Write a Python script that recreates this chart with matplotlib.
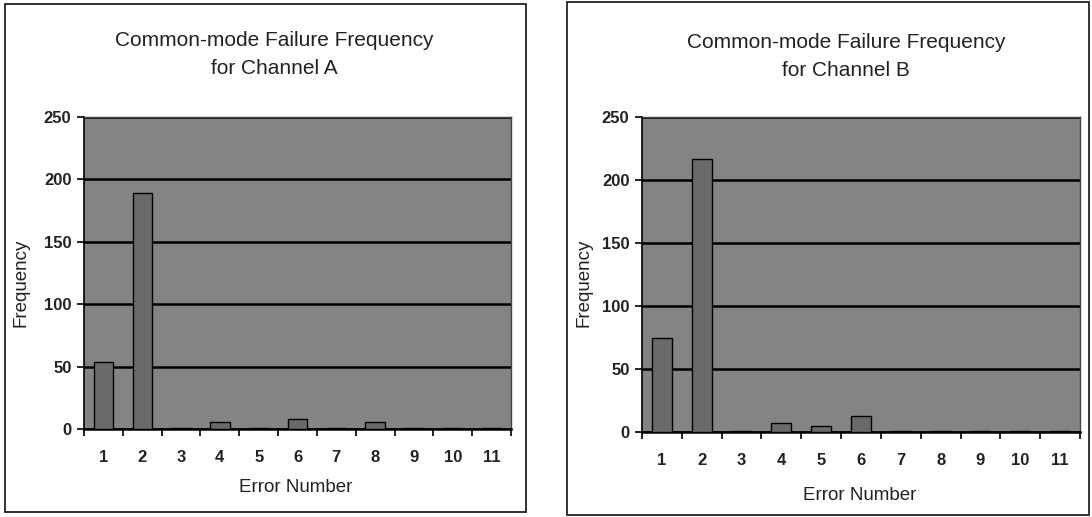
import numpy as np
import matplotlib.pyplot as plt
from matplotlib.patches import Rectangle

# Datos
errores = list(range(1, 12))
frec_a = [54, 189, 1, 6, 1, 8, 1, 6, 1, 1, 1]
frec_b = [75, 217, 1, 7, 5, 13, 1, 1, 1, 1, 1]
titulos = ['Common-mode Failure Frequency\nfor Channel A',
           'Common-mode Failure Frequency\nfor Channel B']

W, H = 1092, 517
FONDO = '#848484'
BARRA = '#6a6a6a'

plt.rcParams['font.family'] = ['Liberation Sans', 'DejaVu Sans']

fig = plt.figure(figsize=(W / 100, H / 100), dpi=100)
fig.patch.set_facecolor('white')


def px(x0, y0, x1, y1):
    """Convierte una caja en píxeles a coordenadas de figura"""
    return [x0 / W, 1 - y1 / H, (x1 - x0) / W, (y1 - y0) / H]


def panel(caja_ax, caja_borde, valores, titulo, pos_titulo, pos_ylabel, pos_xlabel):
    # Borde del panel
    b = px(*caja_borde)
    fig.patches.append(Rectangle((b[0], b[1]), b[2], b[3], transform=fig.transFigure,
                                 fill=False, edgecolor='#222222', linewidth=1.3))
    ax = fig.add_axes(px(*caja_ax))
    ax.set_facecolor(FONDO)
    x = np.arange(len(errores))
    ax.bar(x, valores, width=0.5, color=BARRA, edgecolor='black', linewidth=1.0, zorder=3)
    ax.set_xlim(-0.5, len(errores) - 0.5)
    ax.set_ylim(0, 250)
    ax.set_yticks([0, 50, 100, 150, 200, 250])
    ax.set_xticks(x)
    ax.set_xticklabels([str(e) for e in errores])
    ax.set_xticks(np.arange(-0.5, len(errores)), minor=True)
    ax.tick_params(axis='x', which='major', length=0, pad=15, labelsize=12)
    ax.tick_params(axis='x', which='minor', length=5, width=1.2, direction='out')
    ax.tick_params(axis='y', length=5, width=1.2, pad=4, labelsize=12)
    for lab in ax.get_xticklabels() + ax.get_yticklabels():
        lab.set_fontweight('bold')
        lab.set_color('#222222')
    ax.yaxis.grid(True, color='black', linewidth=1.8, zorder=1)
    ax.set_axisbelow(True)
    for lado in ['top', 'right']:
        ax.spines[lado].set_color('#444444')
        ax.spines[lado].set_linewidth(1.0)
    ax.spines['left'].set_linewidth(1.2)
    ax.spines['bottom'].set_linewidth(1.8)
    fig.text(pos_titulo[0] / W, 1 - pos_titulo[1] / H, titulo, ha='center', va='center',
             fontsize=15, color='#222222', linespacing=1.6)
    fig.text(pos_ylabel[0] / W, 1 - pos_ylabel[1] / H, 'Frequency', rotation=90,
             ha='center', va='center', fontsize=13.5, color='#222222')
    fig.text(pos_xlabel[0] / W, 1 - pos_xlabel[1] / H, 'Error Number',
             ha='center', va='center', fontsize=13.5, color='#222222')
    return ax


panel((84, 117, 511, 429), (5, 4, 526, 512), frec_a, titulos[0],
      (274, 54), (21, 283), (296, 488))
panel((642, 117, 1080, 432), (567, 2, 1089, 515), frec_b, titulos[1],
      (846, 56), (584, 283), (860, 495))

fig.savefig('out.png', dpi=100, facecolor='white')
